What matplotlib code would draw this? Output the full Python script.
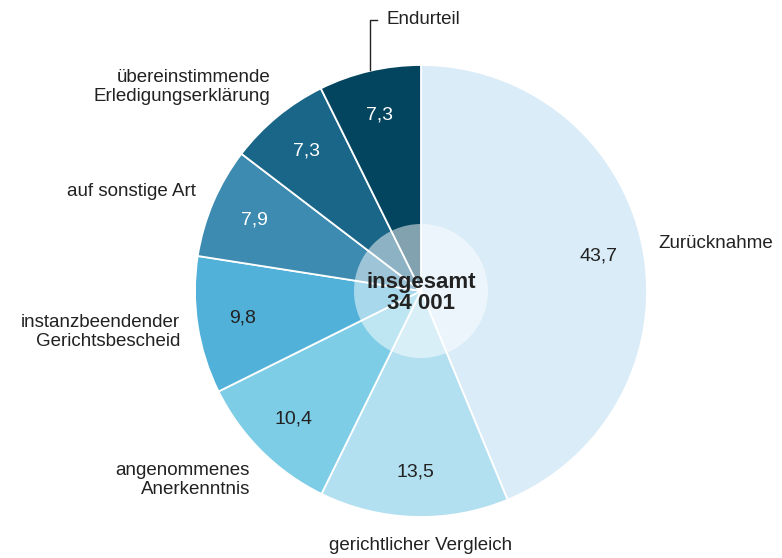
import numpy as np
import matplotlib.pyplot as plt
from matplotlib.patches import Circle

plt.rcParams['font.family'] = ['Liberation Sans', 'DejaVu Sans']

# Erledigungsarten in Prozent
categories = ['Zurücknahme', 'gerichtlicher Vergleich', 'angenommenes\nAnerkenntnis',
              'instanzbeendender\nGerichtsbescheid', 'auf sonstige Art',
              'übereinstimmende\nErledigungserklärung', 'Endurteil']
shares = [43.7, 13.5, 10.4, 9.8, 7.9, 7.3, 7.3]
value_labels = ['43,7', '13,5', '10,4', '9,8', '7,9', '7,3', '7,3']
total_label = 'insgesamt\n34 001'

colors = ['#d9ecf7', '#b3e0f0', '#7ecde6', '#52b1d9', '#3d8bb0', '#196688', '#03455e']
text_colors = ['#222222', '#222222', '#222222', '#222222', 'white', 'white', 'white']

fig = plt.figure(figsize=(7.82, 5.58), dpi=100)
ax = fig.add_axes([0, 0, 1, 1])

cx, cy, r = 421, 267, 226
wedges, _ = ax.pie(shares, colors=colors, startangle=90, counterclock=False,
                   center=(cx, cy), radius=r, frame=True,
                   wedgeprops=dict(edgecolor='white', linewidth=1.3))

# Werte in den Segmenten
for w, lab, tc in zip(wedges, value_labels, text_colors):
    ang = np.deg2rad((w.theta1 + w.theta2) / 2)
    ax.text(cx + 0.8 * r * np.cos(ang), cy + 0.8 * r * np.sin(ang), lab,
            ha='center', va='center', fontsize=14, color=tc)

# halbtransparenter Kreis in der Mitte
ax.add_patch(Circle((cx, cy), 67, facecolor='white', alpha=0.5, edgecolor='none', zorder=3))
ax.text(cx, cy - 2, total_label, ha='center', va='center', fontsize=16,
        fontweight='bold', color='#222222', linespacing=0.95, zorder=4)

# Beschriftungen außen
lab_kw = dict(fontsize=13.5, color='#222222', linespacing=1.2)
ax.text(658, 558 - 244, categories[0], ha='left', va='center', **lab_kw)
ax.text(421, 558 - 545, categories[1], ha='center', va='center', **lab_kw)
ax.text(250, 558 - 480, categories[2], ha='right', va='center', multialignment='right', **lab_kw)
ax.text(180, 558 - 332, categories[3], ha='right', va='center', multialignment='right', **lab_kw)
ax.text(196, 558 - 192, categories[4], ha='right', va='center', **lab_kw)
ax.text(270, 558 - 87, categories[5], ha='right', va='center', multialignment='right', **lab_kw)
ax.text(387, 558 - 20, categories[6], ha='left', va='center', **lab_kw)
ax.plot([377, 370, 370], [558 - 20, 558 - 20, 558 - 70], color='#222222', lw=1)

ax.set_xlim(0, 782)
ax.set_ylim(0, 558)
ax.set_aspect('equal')
ax.axis('off')

fig.savefig('out.png', dpi=100)
